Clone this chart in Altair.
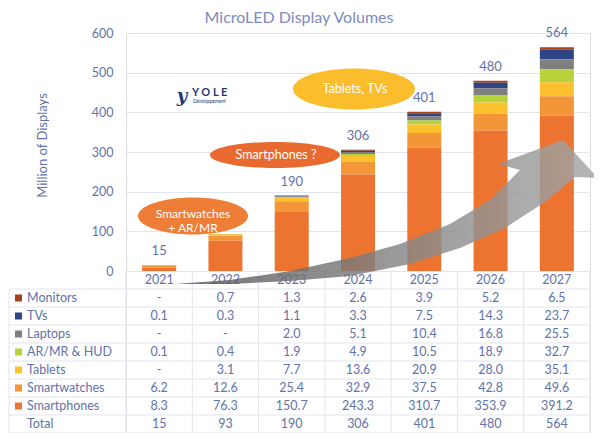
import altair as alt
import pandas as pd

# ---------------- data ----------------
years = ["2021", "2022", "2023", "2024", "2025", "2026", "2027"]
series = ["Monitors", "TVs", "Laptops", "AR/MR & HUD", "Tablets", "Smartwatches", "Smartphones"]
monitors = [None, 0.7, 1.3, 2.6, 3.9, 5.2, 6.5]
tvs = [0.1, 0.3, 1.1, 3.3, 7.5, 14.3, 23.7]
laptops = [None, None, 2.0, 5.1, 10.4, 16.8, 25.5]
armr = [0.1, 0.4, 1.9, 4.9, 10.5, 18.9, 32.7]
tablets = [None, 3.1, 7.7, 13.6, 20.9, 28.0, 35.1]
smartwatches = [6.2, 12.6, 25.4, 32.9, 37.5, 42.8, 49.6]
smartphones = [8.3, 76.3, 150.7, 243.3, 310.7, 353.9, 391.2]
totals = [15, 93, 190, 306, 401, 480, 564]
labeled_years = ["2021", "2023", "2024", "2025", "2026", "2027"]
colors = ["#a3421b", "#2e4585", "#7f7f7f", "#b7d23b", "#fcc12d", "#f39638", "#ed7331"]

values = [monitors, tvs, laptops, armr, tablets, smartwatches, smartphones]

# ---------------- tables ----------------
rows_long = []
for i, (name, vals) in enumerate(zip(series, values)):
    for y, v in zip(years, vals):
        rows_long.append({"series": name, "year": y, "value": 0.0 if v is None else v,
                          "order": len(series) - 1 - i})
bars_df = pd.DataFrame(rows_long)

tot_df = pd.DataFrame({"year": years, "total": totals})

table_rows = ["header"] + series + ["Total"]
cells = []
for y in years:
    cells.append({"row": "header", "year": y, "txt": y})
for name, vals in zip(series, values):
    for y, v in zip(years, vals):
        cells.append({"row": name, "year": y, "txt": "-" if v is None else f"{v:.1f}"})
for y, t in zip(years, totals):
    cells.append({"row": "Total", "year": y, "txt": str(t)})
cells_df = pd.DataFrame(cells)

labels_df = pd.DataFrame({"row": series + ["Total"]})
swatch_df = pd.DataFrame({"row": series})
hrule_df = pd.DataFrame({"row": series + ["Total"]})
vrule_df = pd.DataFrame({"year": years})
one = pd.DataFrame({"a": [0]})

# ---------------- styling ----------------
TXT = "#6272ab"
GRID = "#e1e5f0"
FONT = "Lato"
W, H = 464, 400
BAR_BOTTOM = 238
OX, OY = 126, 33  # plot origin on page

xs = alt.Scale(type="band", domain=years, paddingInner=0, paddingOuter=0)
ys_q = alt.Scale(domain=[0, 600], range=[BAR_BOTTOM, 0], nice=False)


def ys_b():
    return alt.Scale(type="band", domain=table_rows, range=[BAR_BOTTOM, H],
                     paddingInner=0, paddingOuter=0)


cscale = alt.Scale(domain=series, range=colors)

bars = alt.Chart(bars_df).mark_bar(size=34).encode(
    x=alt.X("year:N", scale=xs, axis=None),
    y=alt.Y("value:Q", stack="zero", scale=ys_q,
            axis=alt.Axis(values=[0, 100, 200, 300, 400, 500, 600], title="Million of Displays",
                          ticks=False, domain=False, labelPadding=13, labelFontSize=12.5,
                          labelColor=TXT, gridColor=GRID, titleColor=TXT, titleFontSize=13,
                          titleFontWeight="normal", titleX=-84, titleY=112, titleAngle=-90,
                          titleAlign="center", titleBaseline="middle")),
    color=alt.Color("series:N", scale=cscale, legend=None),
    order=alt.Order("order:Q"),
)

tot_text = alt.Chart(tot_df).transform_filter(
    alt.FieldOneOfPredicate(field="year", oneOf=labeled_years)
).mark_text(dy=-14, fontSize=13, color=TXT, font=FONT).encode(
    x=alt.X("year:N", scale=xs, axis=None),
    y=alt.Y("total:Q", scale=ys_q, axis=None),
    text="total:Q",
)

hrules = alt.Chart(hrule_df).mark_rule(color=GRID, strokeWidth=1).encode(
    x=alt.value(-117), x2=alt.value(W),
    y=alt.Y("row:N", bandPosition=0, scale=ys_b(), axis=None),
)
hbottom = alt.Chart(one).mark_rule(color=GRID, strokeWidth=1).encode(
    x=alt.value(-117), x2=alt.value(W), y=alt.value(H))
vrules = alt.Chart(vrule_df).mark_rule(color=GRID, strokeWidth=1).encode(
    x=alt.X("year:N", bandPosition=0, scale=xs, axis=None),
    y=alt.value(BAR_BOTTOM), y2=alt.value(H))
vright = alt.Chart(one).mark_rule(color=GRID, strokeWidth=1).encode(
    x=alt.value(W), y=alt.value(BAR_BOTTOM), y2=alt.value(H))
vleft = alt.Chart(one).mark_rule(color=GRID, strokeWidth=1).encode(
    x=alt.value(-117), y=alt.value(BAR_BOTTOM + 18), y2=alt.value(H))

cell_text = alt.Chart(cells_df).mark_text(fontSize=12.5, color=TXT, font=FONT).encode(
    x=alt.X("year:N", scale=xs, axis=None),
    y=alt.Y("row:N", scale=ys_b(), axis=None),
    text="txt:N",
)
row_labels = alt.Chart(labels_df).mark_text(fontSize=12.5, color=TXT, font=FONT, align="left").encode(
    x=alt.value(-99),
    y=alt.Y("row:N", scale=ys_b(), axis=None),
    text="row:N",
)
swatches = alt.Chart(swatch_df).mark_square(size=49, opacity=1, filled=True).encode(
    x=alt.value(-107.5),
    y=alt.Y("row:N", scale=ys_b(), axis=None),
    color=alt.Color("row:N", scale=cscale, legend=None),
)

# ---------------- annotations ----------------
title = alt.Chart(one).mark_text(fontSize=16, color="#7d8ac2", font=FONT, baseline="middle").encode(
    x=alt.value(299 - OX), y=alt.value(18 - OY), text=alt.value("MicroLED Display Volumes"))


def ellipse(cx, cy, w, h, color):
    r = h / w
    path = f"M-1,0A1,{r:.4f} 0 1,1 1,0A1,{r:.4f} 0 1,1 -1,0Z"
    return alt.Chart(one).mark_point(shape=path, size=w * w, filled=True, fill=color,
                                     opacity=1, strokeWidth=0).encode(
        x=alt.value(cx - OX), y=alt.value(cy - OY))


def label(cx, cy, text, size=12.5):
    return alt.Chart(one).mark_text(fontSize=size, color="white", font=FONT, lineBreak="\n",
                                    lineHeight=14, baseline="middle").encode(
        x=alt.value(cx - OX), y=alt.value(cy - OY), text=alt.value(text))


e1 = ellipse(193, 216, 110, 37, "#ee7d36")
t1 = label(193, 214, "Smartwatches\n+ AR/MR", 12)
e2 = ellipse(275, 155, 130, 26, "#e96a2f")
t2 = label(276, 155, "Smartphones ?")
e3 = ellipse(354, 89, 122, 41, "#fbbd2c")
t3 = label(355, 89, "Tablets, TVs")

arrow_pts = [(175, 284), (230, 280), (290, 271), (350, 258), (400, 244), (450, 224),
             (490, 200), (520, 170), (498, 164), (563, 140), (598, 178), (575, 177),
             (545, 202), (505, 228), (460, 248), (410, 264), (350, 276), (290, 281), (230, 284)]
k = 100.0
apath = "M" + "L".join(f"{(px - OX) / k:.3f},{(py - OY) / k:.3f}" for px, py in arrow_pts) + "Z"
arrow = alt.Chart(one).mark_point(
    shape=apath, size=(2 * k) ** 2, filled=True, strokeWidth=0, opacity=0.82,
    fill=alt.LinearGradient(gradient="linear", x1=0, x2=1, y1=0, y2=0,
                            stops=[alt.GradientStop(color="#555555", offset=0),
                                   alt.GradientStop(color="#8a8a8a", offset=0.6),
                                   alt.GradientStop(color="#a5a5a5", offset=1)]),
).encode(x=alt.value(0), y=alt.value(0))

logo1 = alt.Chart(one).mark_text(fontSize=11, fontWeight="bold", color="#1f3a70", font=FONT,
                                 align="left").encode(
    x=alt.value(192 - OX), y=alt.value(93 - OY), text=alt.value("Y O L E"))
logo2 = alt.Chart(one).mark_text(fontSize=5, fontStyle="italic", color="#1f3a70", font=FONT,
                                 align="left").encode(
    x=alt.value(193 - OX), y=alt.value(101 - OY), text=alt.value("Développement"))
logo3 = alt.Chart(one).mark_text(fontSize=18, fontStyle="italic", fontWeight="bold", color="#1f3a70",
                                 font="DejaVu Serif").encode(
    x=alt.value(182 - OX), y=alt.value(97 - OY), text=alt.value("y"))

chart = alt.layer(
    bars, tot_text, hrules, hbottom, vrules, vright, vleft, cell_text, row_labels, swatches,
    arrow, e1, t1, e2, t2, e3, t3, title, logo1, logo2, logo3,
).resolve_scale(y="independent").properties(
    width=W, height=H,
    autosize=alt.AutoSizeParams(type="none"),
    padding={"left": OX - 8, "top": OY - 8, "right": 4, "bottom": 0},
).configure_view(stroke=None).configure(font=FONT)

chart.save("out.html", embed_options={"renderer": "svg", "actions": False})
